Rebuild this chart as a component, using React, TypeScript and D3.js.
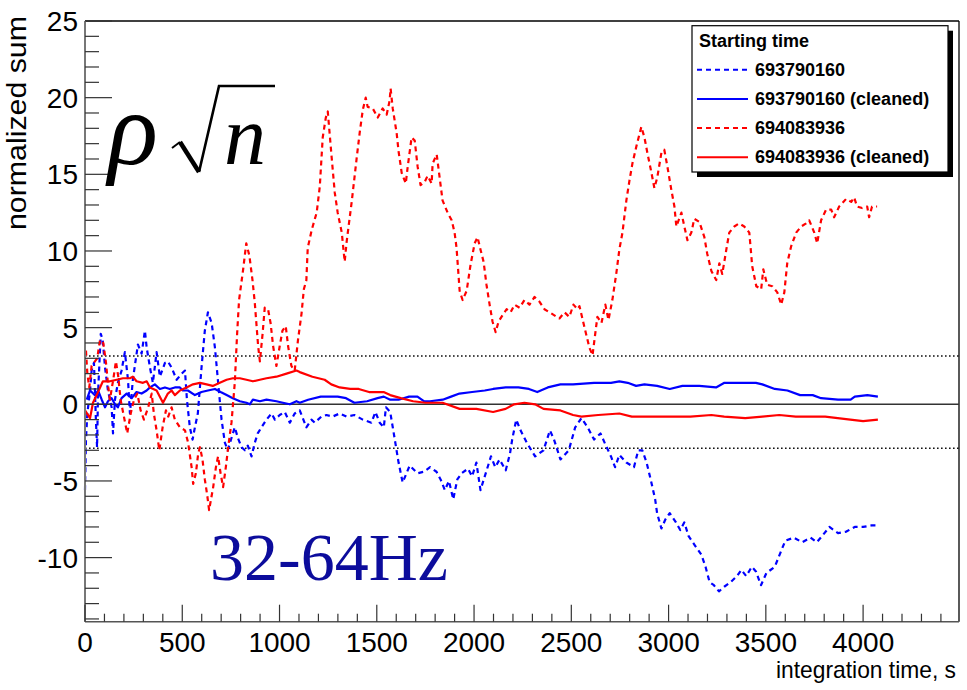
import * as d3 from 'd3';
import { useMemo } from 'react';

// series: [integration time (s), normalized sum]
const blueRaw: [number, number][] = [
  [0, -5.6], [5, -2.3], [12, -0.6], [26, 0.9], [34, 2.2], [46, 2.7], [51, 0.9], [56, -1.0], [62, -2.8],
  [67, 0.7], [81, 4.6], [91, 4.2], [103, 2.4], [118, 0.9], [137, -0.2], [144, -1.9], [154, 0.3],
  [169, 1.4], [188, 2.2], [205, 3.4], [221, 1.6], [231, -0.6], [246, 1.6], [272, 3.9], [291, 3.3],
  [308, 4.8], [317, 3.7], [334, 2.4], [349, 1.4], [368, 3.4], [385, 1.8], [411, 2.7], [426, 2.8],
  [445, 2.4], [471, 1.6], [497, 2.0], [514, 2.2], [524, 0.3], [539, -1.5], [553, -2.3], [565, -1.5],
  [580, -0.6], [599, 2.4], [616, 4.8], [632, 6.0], [651, 5.3], [668, 3.7], [683, 1.6], [702, -1.0],
  [719, -2.5], [734, -3.0], [753, -2.2], [770, -1.5], [786, -2.2], [805, -2.8], [822, -3.0], [837, -2.7],
  [856, -3.4], [873, -2.5], [888, -1.9], [907, -1.5], [933, -1.0], [959, -0.6], [976, -1.0], [1001, -0.7],
  [1027, -0.5], [1053, -1.2], [1078, -0.6], [1104, -0.4], [1138, -1.5], [1164, -1.0], [1181, -1.2],
  [1215, -0.8], [1241, -0.7], [1273, -0.8], [1309, -0.6], [1344, -0.8], [1385, -0.7], [1428, -1.0],
  [1472, -1.2], [1493, -0.5], [1515, -1.2], [1536, -1.5], [1547, -0.2], [1569, -0.5], [1590, -2.1],
  [1612, -3.8], [1633, -5.1], [1669, -4.0], [1709, -4.5], [1742, -4.4], [1774, -4.1], [1807, -4.4],
  [1828, -4.9], [1850, -5.6], [1871, -5.0], [1893, -6.2], [1914, -4.9], [1936, -4.5], [1969, -4.2],
  [1990, -4.7], [2012, -3.8], [2033, -5.6], [2055, -4.7], [2087, -3.4], [2109, -4.1], [2131, -3.6],
  [2163, -4.3], [2185, -3.2], [2196, -2.3], [2217, -1.0], [2239, -1.7], [2271, -2.5], [2314, -3.4],
  [2357, -3.0], [2390, -1.7], [2411, -2.3], [2444, -3.6], [2487, -3.0], [2520, -1.5], [2552, -0.9],
  [2584, -1.5], [2617, -2.3], [2650, -1.9], [2671, -2.5], [2704, -3.4], [2725, -4.1], [2747, -3.3],
  [2783, -3.8], [2822, -4.1], [2844, -3.0], [2865, -3.0], [2887, -3.8], [2908, -4.9], [2931, -6.2],
  [2941, -7.1], [2963, -8.1], [2984, -7.5], [3006, -7.1], [3038, -7.7], [3060, -8.2], [3081, -7.7],
  [3103, -8.6], [3135, -9.2], [3168, -9.8], [3190, -10.6], [3211, -11.6], [3233, -11.8], [3259, -12.2],
  [3286, -11.9], [3319, -11.6], [3352, -11.2], [3374, -10.8], [3399, -11.2], [3428, -10.6], [3449, -10.9],
  [3475, -11.8], [3503, -11.0], [3546, -10.6], [3568, -9.9], [3600, -8.9], [3644, -8.7], [3687, -9.0],
  [3730, -8.7], [3762, -9.0], [3795, -8.5], [3827, -8.0], [3871, -8.4], [3914, -8.3], [3957, -8.0],
  [4000, -8.0], [4043, -7.9], [4076, -7.9],
];

const blueClean: [number, number][] = [
  [9, 0.3], [26, 0.9], [51, 0.6], [67, 0.9], [86, 0.3], [103, -0.2], [118, 0.2], [137, 0.4], [154, 0.0],
  [169, -0.2], [188, 0.4], [214, 0.7], [240, 0.4], [265, 0.8], [291, 0.7], [317, 0.9], [334, 1.1],
  [359, 1.3], [385, 1.0], [411, 1.1], [436, 1.0], [462, 1.1], [488, 1.1], [503, 0.9], [529, 0.9],
  [565, 0.6], [599, 0.8], [632, 0.9], [668, 1.0], [697, 0.8], [728, 0.6], [760, 0.4], [796, 0.2],
  [830, 0.1], [847, 0.0], [863, 0.3], [899, 0.2], [933, 0.3], [984, 0.2], [1017, 0.1], [1053, 0.0],
  [1087, 0.2], [1104, 0.1], [1147, 0.3], [1212, 0.5], [1299, 0.5], [1342, 0.4], [1385, 0.1], [1450, 0.2],
  [1504, 0.4], [1536, 0.5], [1569, 0.3], [1612, 0.3], [1666, 0.5], [1709, 0.5], [1742, 0.2], [1774, 0.2],
  [1839, 0.3], [1882, 0.5], [1925, 0.7], [1990, 0.8], [2055, 0.9], [2098, 1.0], [2163, 1.1], [2228, 1.1],
  [2282, 1.0], [2325, 0.8], [2379, 1.1], [2444, 1.3], [2509, 1.3], [2617, 1.4], [2704, 1.4], [2747, 1.5],
  [2790, 1.4], [2833, 1.2], [2876, 1.3], [2941, 1.2], [3006, 1.0], [3071, 1.2], [3158, 1.2], [3244, 1.1],
  [3287, 1.4], [3373, 1.4], [3449, 1.4], [3482, 1.3], [3546, 1.0], [3611, 0.9], [3676, 0.6], [3741, 0.6],
  [3784, 0.4], [3871, 0.3], [3936, 0.3], [3957, 0.5], [4022, 0.6], [4076, 0.5],
];

const redRaw: [number, number][] = [
  [5, 3.5], [12, 2.0], [22, 1.1], [34, 2.5], [51, 2.8], [63, 3.0], [77, 4.2], [94, 4.0], [108, 2.7],
  [120, 1.1], [128, 0.3], [145, 1.6], [159, 2.8], [171, 1.8], [183, 0.3], [200, -0.8], [217, -1.9],
  [235, -0.6], [252, 0.3], [269, 0.7], [286, -0.4], [303, -1.0], [325, -0.2], [343, 0.7], [354, -0.6],
  [368, -1.7], [382, -3.0], [399, -1.5], [416, -0.4], [428, -0.8], [445, -0.2], [462, -1.0], [488, -1.5],
  [514, -1.7], [530, -2.5], [548, -4.1], [556, -5.2], [570, -4.5], [582, -3.2], [591, -2.8], [604, -3.6],
  [616, -4.9], [628, -5.9], [638, -6.9], [659, -5.4], [673, -4.1], [684, -3.4], [697, -4.5], [710, -5.4],
  [724, -4.1], [736, -2.8], [753, -1.2], [770, 1.4], [782, 4.6], [792, 6.8], [813, 8.8], [829, 10.5],
  [845, 9.7], [861, 8.1], [873, 6.6], [890, 3.8], [899, 2.8], [913, 4.6], [924, 6.3], [941, 6.2],
  [954, 5.3], [967, 3.8], [984, 2.5], [1001, 3.8], [1015, 4.8], [1032, 5.1], [1044, 3.8], [1061, 2.5],
  [1078, 2.2], [1095, 4.2], [1113, 5.9], [1125, 7.5], [1138, 8.1], [1145, 10.2], [1166, 11.4],
  [1191, 12.5], [1207, 14.2], [1222, 17.4], [1238, 18.7], [1248, 19.1], [1268, 16.1], [1284, 13.8],
  [1299, 12.5], [1320, 11.2], [1335, 9.3], [1345, 10.6], [1371, 13.2], [1397, 16.1], [1412, 17.7],
  [1428, 19.2], [1443, 20.0], [1453, 19.4], [1479, 19.3], [1505, 18.7], [1530, 19.3], [1551, 18.9],
  [1566, 19.8], [1571, 20.6], [1582, 19.3], [1602, 17.7], [1612, 16.5], [1628, 15.1], [1649, 14.4],
  [1659, 15.5], [1679, 17.4], [1695, 17.2], [1710, 15.5], [1725, 14.3], [1746, 14.5], [1761, 14.9],
  [1782, 14.4], [1787, 15.7], [1808, 16.3], [1823, 14.8], [1838, 13.3], [1864, 12.5], [1885, 12.0],
  [1900, 11.2], [1910, 10.2], [1926, 7.4], [1941, 6.8], [1962, 7.4], [1982, 9.1], [2003, 10.5],
  [2018, 10.9], [2033, 10.1], [2049, 9.3], [2064, 7.8], [2080, 6.5], [2095, 5.4], [2111, 4.7],
  [2126, 5.4], [2146, 5.8], [2167, 6.2], [2188, 6.0], [2208, 6.5], [2234, 6.3], [2259, 6.8], [2285, 6.5],
  [2311, 7.0], [2336, 6.7], [2362, 6.2], [2388, 6.0], [2413, 5.8], [2439, 5.6], [2465, 6.0], [2490, 5.7],
  [2511, 6.5], [2532, 6.2], [2542, 6.4], [2568, 5.0], [2593, 3.7], [2609, 3.2], [2619, 4.2], [2634, 5.7],
  [2655, 5.3], [2675, 6.5], [2691, 5.5], [2711, 6.8], [2732, 8.6], [2747, 10.1], [2763, 11.2],
  [2783, 13.3], [2799, 14.6], [2814, 15.7], [2834, 16.8], [2860, 18.1], [2876, 17.4], [2891, 16.4],
  [2912, 15.1], [2927, 14.1], [2942, 14.8], [2963, 16.4], [2978, 16.6], [2994, 15.5], [3014, 14.0],
  [3030, 12.9], [3040, 11.6], [3066, 12.5], [3081, 11.6], [3097, 10.7], [3117, 11.2], [3132, 12.1],
  [3158, 11.9], [3184, 10.9], [3199, 9.8], [3220, 8.7], [3245, 8.1], [3261, 9.2], [3276, 8.5],
  [3297, 10.1], [3312, 11.2], [3338, 11.6], [3363, 11.8], [3389, 11.6], [3415, 11.2], [3430, 9.0],
  [3451, 7.7], [3476, 7.5], [3487, 8.8], [3507, 7.8], [3533, 7.7], [3559, 7.3], [3579, 6.5], [3595, 7.3],
  [3610, 9.2], [3630, 10.3], [3656, 11.2], [3682, 11.6], [3707, 11.8], [3723, 12.0], [3749, 11.2],
  [3764, 10.5], [3784, 12.0], [3810, 12.7], [3836, 12.7], [3851, 12.2], [3877, 12.9], [3892, 13.1],
  [3913, 13.4], [3939, 13.2], [3954, 13.5], [3969, 12.9], [3995, 12.8], [4021, 12.9], [4031, 12.2],
  [4046, 12.9], [4072, 12.9],
];

const redClean: [number, number][] = [
  [0, -0.4], [26, -0.9], [41, 0.1], [60, 0.6], [92, 1.5], [128, 1.5], [163, 1.6], [195, 1.7], [231, 1.7],
  [246, 1.8], [265, 1.5], [298, 1.4], [317, 1.5], [334, 1.1], [368, 0.9], [401, 0.1], [426, 0.7],
  [445, 0.9], [462, 0.6], [488, 0.9], [522, 1.1], [555, 1.3], [591, 1.4], [625, 1.3], [657, 1.2],
  [693, 1.4], [728, 1.6], [760, 1.7], [796, 1.7], [830, 1.6], [863, 1.5], [899, 1.6], [933, 1.7],
  [984, 1.8], [1036, 2.0], [1087, 2.2], [1104, 2.1], [1169, 1.8], [1232, 1.6], [1266, 1.3], [1309, 1.1],
  [1363, 1.0], [1407, 1.0], [1460, 0.8], [1535, 0.8], [1569, 0.6], [1623, 0.4], [1687, 0.2], [1751, 0.1],
  [1838, 0.1], [1926, -0.3], [2012, -0.3], [2098, -0.5], [2162, -0.3], [2206, 0.0], [2259, 0.1],
  [2314, 0.0], [2357, -0.3], [2444, -0.4], [2509, -0.7], [2552, -0.8], [2638, -0.7], [2747, -0.6],
  [2811, -0.8], [2941, -0.8], [3112, -0.8], [3220, -0.7], [3286, -0.8], [3394, -0.9], [3482, -0.8],
  [3569, -0.7], [3654, -0.8], [3805, -0.8], [3934, -1.0], [4000, -1.1], [4076, -1.0],
];

const xTickValues = [0, 500, 1000, 1500, 2000, 2500, 3000, 3500, 4000];
const xTickLabels = ['0', '500', '1000', '1500', '2000', '2500', '3000', '3500', '4000'];
const yTickValues = [-10, -5, 0, 5, 10, 15, 20, 25];
const yTickLabels = ['-10', '-5', '0', '5', '10', '15', '20', '25'];
const thresholds = [3.15, -2.87];

const legendNames = ['693790160', '693790160 (cleaned)', '694083936', '694083936 (cleaned)'];
const legendColors = ['#0000ff', '#0000ff', '#ff0000', '#ff0000'];
const legendDashed = [true, false, true, false];

const W = 967;
const H = 690;
const M = { left: 85, right: 959, top: 21, bottom: 621.7 };
const SANS = 'Liberation Sans, Arial, Helvetica, sans-serif';
const SERIF = 'Liberation Serif, Times New Roman, serif';

export default function App() {
  const xScale = useMemo(
    () => d3.scaleLinear().domain([0, 4493]).range([M.left, M.right]),
    []
  );
  const yScale = useMemo(
    () => d3.scaleLinear().domain([-14.18, 25]).range([M.bottom, M.top]),
    []
  );

  const line = d3
    .line<[number, number]>()
    .x((d) => xScale(d[0]))
    .y((d) => yScale(d[1]));

  const series = [blueRaw, blueClean, redRaw, redClean];
  const xMinor = d3.range(0, 4493, 100);
  const yMinor = d3.range(-14, 26, 1);

  const legendX = 692;
  const legendY = 25.7;
  const legendW = 256;
  const legendH = 146.3;

  return (
    <svg
      width={W}
      height={H}
      style={{ position: 'absolute', left: 0, top: 0, background: '#fff' }}
    >
      <rect x={0} y={0} width={W} height={H} fill='#fff' />

      {/* frame */}
      <line x1={M.left} x2={M.right} y1={M.top} y2={M.top} stroke='#000' strokeWidth={1.3} />
      <line x1={M.right} x2={M.right} y1={M.top} y2={M.bottom} stroke='#000' strokeWidth={1.3} />

      {/* zero line + thresholds */}
      <line x1={M.left} x2={M.right} y1={yScale(0)} y2={yScale(0)} stroke='#333' strokeWidth={1.5} />
      {thresholds.map((t) => (
        <line
          key={t}
          x1={M.left}
          x2={M.right}
          y1={yScale(t)}
          y2={yScale(t)}
          stroke='#111'
          strokeWidth={1.5}
          strokeDasharray='1.6,2.4'
        />
      ))}

      {/* curves */}
      {series.map((s, i) => (
        <path
          key={i}
          d={line(s) ?? undefined}
          fill='none'
          stroke={legendColors[i]}
          strokeWidth={2.2}
          strokeDasharray={legendDashed[i] ? '5,4' : undefined}
          strokeLinejoin='round'
        />
      ))}

      {/* y axis */}
      <line x1={M.left} x2={M.left} y1={M.top} y2={M.bottom} stroke='#777' strokeWidth={2} />
      {yMinor.map((v) => (
        <line
          key={'ym' + v}
          x1={M.left}
          x2={M.left + (v % 5 === 0 ? 27 : 14)}
          y1={yScale(v)}
          y2={yScale(v)}
          stroke='#333'
          strokeWidth={1.2}
        />
      ))}
      {yTickValues.map((v, i) => (
        <text
          key={'yl' + v}
          x={78}
          y={yScale(v)}
          dy='0.36em'
          textAnchor='end'
          fontFamily={SANS}
          fontSize={28}
          fill='#000'
        >
          {yTickLabels[i]}
        </text>
      ))}
      <text
        transform='translate(26,16) rotate(-90)'
        textAnchor='end'
        fontFamily={SANS}
        fontSize={28}
        textLength={214}
        lengthAdjust='spacingAndGlyphs'
        fill='#000'
      >
        normalized sum
      </text>

      {/* x axis */}
      <line x1={M.left} x2={M.right} y1={M.bottom} y2={M.bottom} stroke='#555' strokeWidth={1.5} />
      {xMinor.map((v) => (
        <line
          key={'xm' + v}
          x1={xScale(v)}
          x2={xScale(v)}
          y1={M.bottom}
          y2={M.bottom - (v % 500 === 0 ? 17 : 8)}
          stroke='#333'
          strokeWidth={1.2}
        />
      ))}
      {xTickValues.map((v, i) => (
        <text
          key={'xl' + v}
          x={xScale(v)}
          y={652}
          textAnchor='middle'
          fontFamily={SANS}
          fontSize={28}
          fill='#000'
        >
          {xTickLabels[i]}
        </text>
      ))}
      <text
        x={956}
        y={678}
        textAnchor='end'
        fontFamily={SANS}
        fontSize={24}
        textLength={180}
        lengthAdjust='spacingAndGlyphs'
        fill='#000'
      >
        integration time, s
      </text>

      {/* formula */}
      <text x={108} y={164} fontFamily={SERIF} fontStyle='italic' fontSize={104} fill='#000'>
        ρ
      </text>
      <path d='M172,148 L180,142' stroke='#000' strokeWidth={2} fill='none' />
      <path d='M180,142 L199,172' stroke='#000' strokeWidth={4.5} fill='none' />
      <path d='M199,172 L219,86 L275,86' stroke='#000' strokeWidth={2.6} fill='none' />
      <text x={224} y={164} fontFamily={SERIF} fontStyle='italic' fontSize={84} fill='#000'>
        n
      </text>

      <text x={210} y={580} fontFamily={SERIF} fontSize={68} fill='#0c0c9c'>
        32-64Hz
      </text>

      {/* legend */}
      <rect x={legendX + 5} y={legendY + 5} width={legendW} height={legendH} fill='#000' />
      <rect
        x={legendX}
        y={legendY}
        width={legendW}
        height={legendH}
        fill='#fff'
        stroke='#000'
        strokeWidth={1.2}
      />
      <text x={699} y={46.5} fontFamily={SANS} fontWeight='bold' fontSize={18} fill='#000'>
        Starting time
      </text>
      {legendNames.map((name, i) => {
        const base = 46.5 + 29.2 * (i + 1);
        return (
          <g key={name}>
            <line
              x1={697}
              x2={748}
              y1={base - 6}
              y2={base - 6}
              stroke={legendColors[i]}
              strokeWidth={2}
              strokeDasharray={legendDashed[i] ? '5,4' : undefined}
            />
            <text x={755} y={base} fontFamily={SANS} fontWeight='bold' fontSize={18} fill='#000'>
              {name}
            </text>
          </g>
        );
      })}
    </svg>
  );
}
